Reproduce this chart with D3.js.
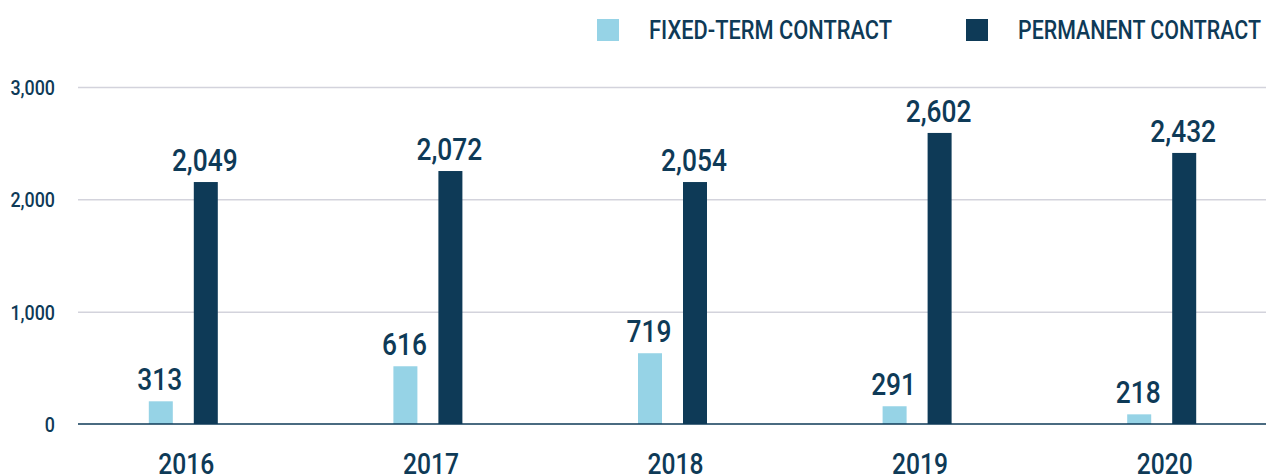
<!DOCTYPE html>
<html>
<head>
<meta charset="utf-8">
<script src="https://cdn.jsdelivr.net/npm/d3@7"></script>
<style>
  body { margin: 0; background: #fff; }
  text { font-family: Roboto, "Liberation Sans", sans-serif; font-weight: 500; fill: #0e3a57; }
  .grid line { stroke: #d3d3dc; stroke-width: 1.5; }
  .grid .domain { display: none; }
</style>
</head>
<body>
<div id="chart"></div>
<script>
var w = 1266;
var h = 475;

var years = ["2016", "2017", "2018", "2019", "2020"];
var seriesNames = ["FIXED-TERM CONTRACT", "PERMANENT CONTRACT"];
var colors = ["#96d3e6", "#0e3a57"];

// values as printed on the chart
var fixedLabels = [313, 616, 719, 291, 218];
var permLabels = [2049, 2072, 2054, 2602, 2432];

// bar heights as drawn in the picture (they don't match the printed labels)
var fixedBars = [202, 514, 630, 158, 86];
var permBars = [2154, 2252, 2154, 2591, 2413];

var yTicks = [0, 1000, 2000, 3000];

var svg = d3.select("#chart").append("svg").attr("width", w).attr("height", h);

var xScale = d3.scaleBand()
    .domain(years)
    .range([61, 1284]);

var yScale = d3.scaleLinear()
    .domain([0, 3000])
    .range([424, 87]);

var fmt = d3.format(",");

// gridlines
svg.append("g")
    .attr("class", "grid")
    .attr("transform", "translate(78,0)")
    .call(d3.axisLeft(yScale).tickValues(yTicks.slice(1)).tickSize(-(w - 78)).tickFormat(""));

// y tick labels
svg.append("g").selectAll("text")
    .data(yTicks)
    .enter().append("text")
    .attr("class", "cond")
    .attr("x", 55)
    .attr("y", function (d) { return yScale(d) + 8; })
    .attr("text-anchor", "end")
    .style("font-size", "21px")
    .text(function (d) { return fmt(d); });

// bars
var series = [
    { bars: fixedBars, labels: fixedLabels, offset: -22.5, color: colors[0] },
    { bars: permBars, labels: permLabels, offset: 22.5, color: colors[1] }
];
var barW = 24;

series.forEach(function (s) {
    var g = svg.append("g");
    g.selectAll("rect")
        .data(years)
        .enter().append("rect")
        .attr("x", function (d) { return xScale(d) + xScale.bandwidth() / 2 + s.offset - barW / 2; })
        .attr("y", function (d, i) { return yScale(s.bars[i]); })
        .attr("width", barW)
        .attr("height", function (d, i) { return yScale(0) - yScale(s.bars[i]); })
        .attr("fill", s.color);

    g.selectAll("text")
        .data(years)
        .enter().append("text")
        .attr("class", "cond")
        .attr("x", function (d) { return xScale(d) + xScale.bandwidth() / 2 + s.offset - 1; })
        .attr("y", function (d, i) { return yScale(s.bars[i]) - 11; })
        .attr("text-anchor", "middle")
        .style("font-size", "31px")
        .text(function (d, i) { return fmt(s.labels[i]); });
});

// baseline
svg.append("line")
    .attr("x1", 78)
    .attr("x2", w)
    .attr("y1", yScale(0))
    .attr("y2", yScale(0))
    .attr("stroke", "#0e3a57")
    .attr("stroke-width", 1.5);

// x labels
svg.append("g").selectAll("text")
    .data(years)
    .enter().append("text")
    .attr("class", "cond")
    .attr("x", function (d) { return xScale(d) + xScale.bandwidth() / 2 + 3; })
    .attr("y", 474)
    .attr("text-anchor", "middle")
    .style("font-size", "29px")
    .text(function (d) { return d; });

// squeeze text horizontally to get a condensed look
svg.selectAll("text.cond").each(function () {
    var len = this.getComputedTextLength();
    d3.select(this)
        .attr("textLength", len * 0.85)
        .attr("lengthAdjust", "spacingAndGlyphs");
});

// legend
var legendX = [597, 966];
var legend = svg.append("g");
seriesNames.forEach(function (name, i) {
    legend.append("rect")
        .attr("x", legendX[i])
        .attr("y", 19)
        .attr("width", 22)
        .attr("height", 22)
        .attr("fill", colors[i]);
    var t = legend.append("text")
        .attr("x", legendX[i] + 52)
        .attr("y", 39)
        .style("font-size", "26px")
        .text(name);
    t.attr("textLength", 243)
        .attr("lengthAdjust", "spacingAndGlyphs");
});
</script>
</body>
</html>
